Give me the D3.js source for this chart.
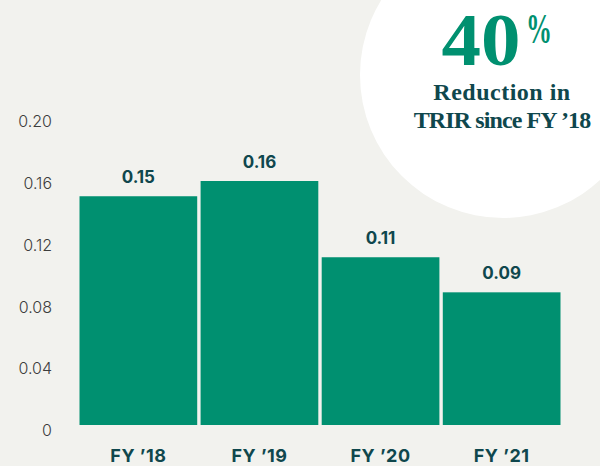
<!DOCTYPE html>
<html>
<head>
<meta charset="utf-8">
<script src="https://cdn.jsdelivr.net/npm/d3@7"></script>
<style>
  html, body { margin: 0; padding: 0; background: #f2f2ee; }
  svg { display: block; }
</style>
</head>
<body>
<svg id="chart" width="600" height="466"></svg>
<script>
const categories = ["FY \u201918", "FY \u201919", "FY \u201920", "FY \u201921"];
const values = [0.15, 0.16, 0.11, 0.087];
const valueLabels = ["0.15", "0.16", "0.11", "0.09"];
const tickValues = [0, 0.04, 0.08, 0.12, 0.16, 0.20];
const tickLabels = ["0", "0.04", "0.08", "0.12", "0.16", "0.20"];
const calloutBig = "40";
const calloutPct = "%";
const calloutLines = ["Reduction in", "TRIR since FY \u201918"];
const calloutSpacing = ["0.5px", "-0.9px"];

const W = 600, H = 466;
const svg = d3.select("#chart");

svg.append("rect").attr("width", W).attr("height", H).attr("fill", "#f2f2ee");

// callout circle
svg.append("circle").attr("cx", 503).attr("cy", 75).attr("r", 143).attr("fill", "#ffffff");

const x = d3.scaleBand().domain(categories).range([79.5, 560.5]).paddingInner(0.028).paddingOuter(0);
const y = d3.scaleLinear().domain([0, 0.2]).range([425, 120]);
const yLab = d3.scaleLinear().domain([0, 0.2]).range([430, 121]);

// y axis labels
const yAxis = d3.axisLeft(yLab).tickValues(tickValues).tickSize(0)
  .tickFormat((d, i) => tickLabels[i]);
const ga = svg.append("g").attr("transform", "translate(52,0)").call(yAxis);
ga.select(".domain").remove();
ga.selectAll("text")
  .attr("x", 0)
  .attr("dy", "0.36em")
  .attr("font-family", "Inter, 'Noto Sans', sans-serif")
  .attr("font-weight", 300)
  .attr("font-size", 16)
  .attr("fill", "#3d3d3d");

// bars
svg.selectAll("rect.bar").data(values).join("rect")
  .attr("class", "bar")
  .attr("x", (d, i) => x(categories[i]))
  .attr("width", x.bandwidth())
  .attr("y", d => y(d))
  .attr("height", d => y(0) - y(d))
  .attr("fill", "#009070");

// value labels
svg.selectAll("text.val").data(values).join("text")
  .attr("class", "val")
  .attr("x", (d, i) => x(categories[i]) + x.bandwidth() / 2)
  .attr("y", d => y(d) - 13)
  .attr("text-anchor", "middle")
  .attr("font-family", "Inter, 'Noto Sans', sans-serif")
  .attr("font-weight", 700)
  .attr("font-size", 17)
  .attr("fill", "#0f474d")
  .text((d, i) => valueLabels[i]);

// x labels
const xAxis = d3.axisBottom(x).tickSize(0);
const gx = svg.append("g").attr("transform", "translate(0,425)").call(xAxis);
gx.select(".domain").remove();
gx.selectAll("text")
  .attr("y", 37)
  .attr("dy", 0)
  .attr("font-family", "Inter, 'Noto Sans', sans-serif")
  .attr("font-weight", 700)
  .attr("font-size", 18)
  .attr("letter-spacing", "0.5px")
  .attr("fill", "#0f474d");

// callout text
svg.append("text")
  .attr("x", 481).attr("y", 65)
  .attr("text-anchor", "middle")
  .attr("font-family", "'Liberation Serif', 'DejaVu Serif', serif")
  .attr("font-weight", 700)
  .attr("font-size", 74)
  .attr("textLength", 79)
  .attr("lengthAdjust", "spacingAndGlyphs")
  .attr("fill", "#009070")
  .text(calloutBig);
svg.append("text")
  .attr("x", 526).attr("y", 43)
  .attr("font-family", "'Liberation Serif', 'DejaVu Serif', serif")
  .attr("font-weight", 700)
  .attr("font-size", 42)
  .attr("textLength", 26)
  .attr("lengthAdjust", "spacingAndGlyphs")
  .attr("fill", "#009070")
  .text(calloutPct);
svg.selectAll("text.cl").data(calloutLines).join("text")
  .attr("class", "cl")
  .attr("x", 502)
  .attr("y", (d, i) => 100 + i * 28)
  .attr("text-anchor", "middle")
  .attr("font-family", "'Liberation Serif', 'DejaVu Serif', serif")
  .attr("font-weight", 700)
  .attr("font-size", 24)
  .attr("letter-spacing", (d, i) => calloutSpacing[i])
  .attr("fill", "#0f474d")
  .text(d => d);
</script>
</body>
</html>
